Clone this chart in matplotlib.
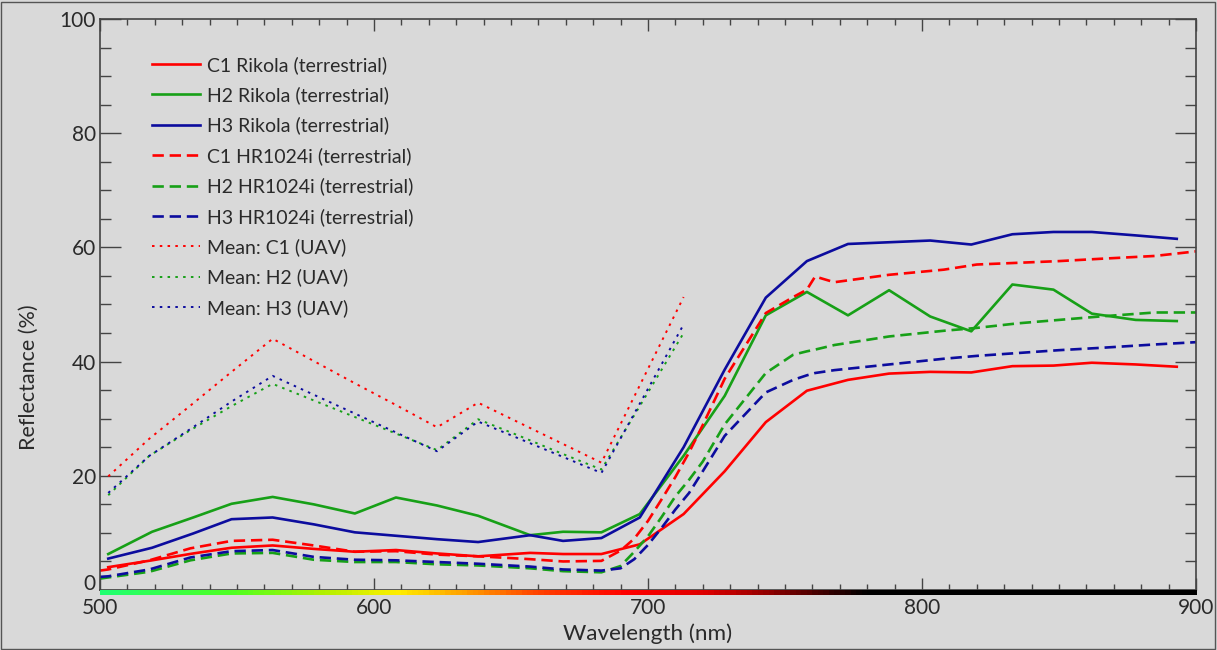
import numpy as np
import matplotlib.pyplot as plt
from matplotlib.collections import LineCollection
from matplotlib.colors import LinearSegmentedColormap
from matplotlib.patches import Rectangle
from matplotlib.ticker import MultipleLocator
import matplotlib.transforms as mtransforms

plt.rcParams['font.family'] = ['Lato', 'DejaVu Sans']

# Rikola (terrestrial) band centres, nm
rikola_nm = [503, 519, 534, 548, 563, 578, 593, 608, 623, 638, 657, 669, 683, 697,
             713, 728, 743, 758, 773, 788, 803, 818, 833, 848, 862, 878, 893]
c1_rikola = [4.0, 5.2, 6.4, 7.4, 7.8, 7.2, 6.7, 7.0, 6.4, 5.9, 6.5, 6.3, 6.3, 8.0,
             13.3, 20.8, 29.4, 34.9, 36.8, 37.9, 38.2, 38.1, 39.2, 39.3, 39.8, 39.5, 39.1]
h2_rikola = [6.3, 10.2, 12.7, 15.1, 16.3, 15.0, 13.4, 16.2, 14.8, 13.0, 9.6, 10.2, 10.1, 13.3,
             23.5, 34.0, 48.1, 52.2, 48.1, 52.5, 47.9, 45.3, 53.5, 52.6, 48.4, 47.3, 47.1]
h3_rikola = [5.5, 7.4, 9.9, 12.4, 12.7, 11.5, 10.1, 9.5, 8.9, 8.4, 9.6, 8.6, 9.1, 12.7,
             25.0, 38.6, 51.2, 57.6, 60.6, 60.9, 61.2, 60.5, 62.3, 62.7, 62.7, 62.1, 61.5]

# HR1024i (terrestrial) spectra, nm
hr_nm = [500, 503, 518, 533, 548, 563, 578, 593, 608, 623, 638, 657, 669, 683, 690,
         695, 700, 705, 710, 715, 720, 728, 743, 753, 758, 761, 768, 788, 808, 820,
         835, 850, 865, 885, 900]
c1_hr = [3.4, 3.6, 5.2, 7.3, 8.6, 8.8, 7.8, 6.7, 6.8, 6.2, 5.9, 5.4, 5.0, 5.1, 6.9,
         9.0, 12.1, 15.9, 19.8, 24.1, 28.9, 37.0, 48.5, 51.3, 52.6, 54.9, 53.9, 55.2, 56.1, 57.0,
         57.3, 57.6, 58.0, 58.5, 59.3]
h2_hr = [2.0, 2.2, 3.2, 5.2, 6.4, 6.5, 5.3, 4.9, 4.9, 4.5, 4.3, 3.8, 3.3, 3.1, 4.2,
         6.7, 9.4, 12.8, 16.4, 19.3, 22.5, 29.0, 38.0, 41.2, 41.8, 42.1, 42.9, 44.4, 45.4, 45.9,
         46.7, 47.3, 47.9, 48.6, 48.6]
h3_hr = [2.3, 2.4, 3.6, 5.7, 6.8, 7.0, 5.8, 5.3, 5.2, 4.9, 4.6, 4.1, 3.6, 3.4, 3.8,
         5.4, 7.9, 10.9, 14.1, 17.0, 20.8, 27.0, 34.6, 36.8, 37.6, 38.0, 38.5, 39.5, 40.5, 41.0,
         41.5, 42.0, 42.4, 43.0, 43.4]

# UAV means, nm
uav_nm = [503, 518, 533, 548, 563, 578, 593, 608, 623, 638, 653, 668, 683, 698, 713]
c1_uav = [19.9, 26.5, 32.3, 38.2, 44.0, 40.1, 36.2, 32.4, 28.5, 32.8, 29.3, 25.8, 22.3, 36.8, 51.3]
h2_uav = [16.6, 23.5, 28.0, 32.2, 36.1, 33.2, 30.3, 27.4, 24.5, 29.9, 27.0, 24.0, 21.1, 33.0, 45.0]
h3_uav = [17.0, 23.5, 28.2, 33.0, 37.5, 34.2, 30.9, 27.6, 24.3, 29.5, 26.5, 23.5, 20.5, 33.5, 46.5]

RED = '#ff0000'
GREEN = '#17a017'
BLUE = '#0c0c9e'
BG = '#d9d9d9'
INK = '#2a2a2a'

fig = plt.figure(figsize=(12.17, 6.5), dpi=100, facecolor=BG)
ax = fig.add_axes([0.0822, 0.0923, 0.9005, 0.8785], facecolor=BG)

lw = 1.9
ax.plot(rikola_nm, c1_rikola, color=RED, lw=lw, label='C1 Rikola (terrestrial)')
ax.plot(rikola_nm, h2_rikola, color=GREEN, lw=lw, label='H2 Rikola (terrestrial)')
ax.plot(rikola_nm, h3_rikola, color=BLUE, lw=lw, label='H3 Rikola (terrestrial)')
dash = (4.3, 2.2)
ax.plot(hr_nm, c1_hr, color=RED, lw=lw, dashes=dash, label='C1 HR1024i (terrestrial)')
ax.plot(hr_nm, h2_hr, color=GREEN, lw=lw, dashes=dash, label='H2 HR1024i (terrestrial)')
ax.plot(hr_nm, h3_hr, color=BLUE, lw=lw, dashes=dash, label='H3 HR1024i (terrestrial)')
dot = (1.3, 2.7)
ax.plot(uav_nm, c1_uav, color=RED, lw=1.4, dashes=dot, label='Mean: C1 (UAV)')
ax.plot(uav_nm, h2_uav, color=GREEN, lw=1.4, dashes=dot, label='Mean: H2 (UAV)')
ax.plot(uav_nm, h3_uav, color=BLUE, lw=1.4, dashes=dot, label='Mean: H3 (UAV)')

ax.set_xlim(500, 900)
ax.set_ylim(0, 100)
ax.xaxis.set_major_locator(MultipleLocator(100))
ax.xaxis.set_minor_locator(MultipleLocator(10))
ax.yaxis.set_major_locator(MultipleLocator(20))
ax.yaxis.set_minor_locator(MultipleLocator(5))
ax.tick_params(axis='x', which='major', direction='in', length=8.5, width=1, color='#444444',
               top=True, labelsize=15, labelcolor=INK, pad=6)
ax.tick_params(axis='x', which='minor', direction='in', length=4.3, width=1, color='#444444', top=True)
ax.tick_params(axis='y', which='major', direction='in', length=15, width=1, color='#444444',
               right=True, labelsize=15, labelcolor=INK, pad=3)
ax.tick_params(axis='y', which='minor', direction='in', length=8, width=1, color='#444444', right=True)
for s in ax.spines.values():
    s.set_color('#444444')
    s.set_linewidth(1.2)

ax.set_xlabel('Wavelength (nm)', fontsize=16.2, color=INK, labelpad=4)
ax.set_ylabel('Reflectance (%)', fontsize=15.5, color=INK)
ax.yaxis.set_label_coords(-0.056, 0.372)

# visible spectrum strip along the wavelength axis
spec = LinearSegmentedColormap.from_list('spec', [
    (0.0, '#20ff70'), (0.12, '#50ff20'), (0.2, '#b0f000'), (0.27, '#ffee00'),
    (0.33, '#ffa000'), (0.4, '#ff4000'), (0.48, '#ff0000'), (0.55, '#e00000'),
    (0.6, '#a00000'), (0.66, '#400000'), (0.7, '#000000'), (1.0, '#000000')])
xs = np.linspace(500, 900, 201)
segs = [[(xs[i], 0), (min(xs[i + 1] + 1.0, 900), 0)] for i in range(len(xs) - 1)]
trans = mtransforms.blended_transform_factory(ax.transData, ax.transAxes)
strip = LineCollection(segs, cmap=spec, linewidths=3.6, transform=trans,
                       clip_on=False, zorder=5, antialiaseds=False, capstyle='butt')
strip.set_array((xs[:-1] - 500) / 400)
strip.set_offset_transform(mtransforms.ScaledTranslation(0, -2 / 100, fig.dpi_scale_trans))
ax.add_collection(strip)

leg = ax.legend(loc='upper left', bbox_to_anchor=(152 / 1217, 1 - 56 / 650),
                bbox_transform=fig.transFigure, frameon=False, fontsize=14,
                handlelength=2.45, handletextpad=0.36, labelspacing=0.64, borderpad=0,
                borderaxespad=0)
for t in leg.get_texts():
    t.set_color(INK)

# the "0" on the reflectance axis sits a little above its tick
fig.canvas.draw()
for lab in ax.get_yticklabels():
    if lab.get_text() == '0':
        lab.set_verticalalignment('baseline')

fig.patches.append(Rectangle((0.001, 0.002), 0.997, 0.995, transform=fig.transFigure,
                             fill=False, edgecolor='#555555', linewidth=1))

fig.savefig('out.png', dpi=100, facecolor=BG)
